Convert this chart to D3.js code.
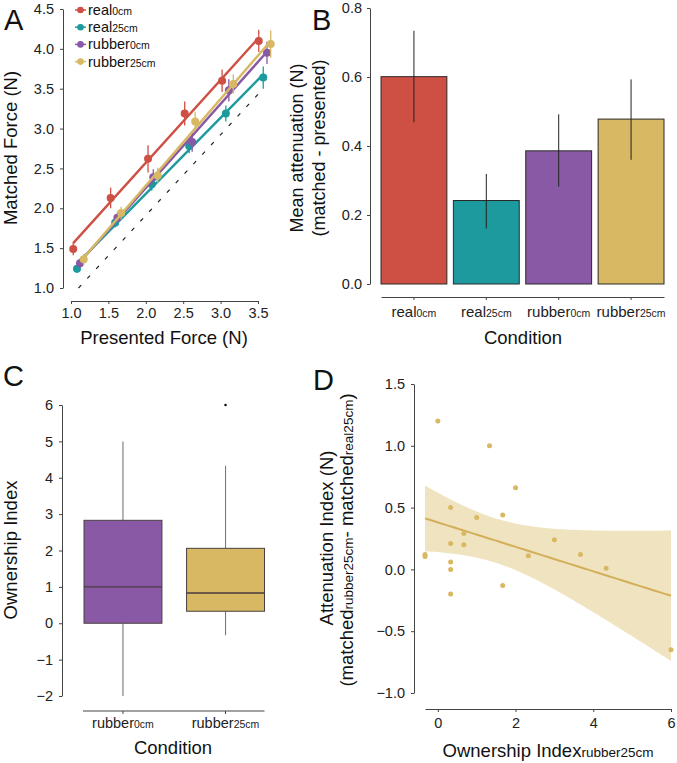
<!DOCTYPE html>
<html>
<head>
<meta charset="utf-8">
<script src="https://cdn.jsdelivr.net/npm/d3@7"></script>
<style>
  html, body { margin: 0; padding: 0; background: #fff; }
  svg { display: block; font-family: "Liberation Sans", Arial, Helvetica, sans-serif; }
  .tick text { fill: #222; }
</style>
</head>
<body>
<svg id="chart" width="677" height="763"></svg>
<script>
// ---------------- DATA ----------------
// Panel A: matched vs presented force (x dodged per series)
const seriesNames = ["real0cm", "real25cm", "rubber0cm", "rubber25cm"];
const seriesMain = ["real", "real", "rubber", "rubber"];
const seriesSub = ["0cm", "25cm", "0cm", "25cm"];
const seriesColors = ["#CE5044", "#1C9A9E", "#8A59A6", "#D8B862"];

const presentedReal0 = [1.03, 1.53, 2.03, 2.52, 3.02, 3.51];
const presentedReal25 = [1.08, 1.59, 2.08, 2.58, 3.07, 3.57];
const presentedRubber0 = [1.12, 1.62, 2.10, 2.62, 3.11, 3.62];
const presentedRubber25 = [1.17, 1.67, 2.16, 2.66, 3.17, 3.67];

const matchedReal0 = [1.49, 2.13, 2.62, 3.19, 3.60, 4.10];
const matchedReal25 = [1.24, 1.82, 2.30, 2.78, 3.19, 3.64];
const matchedRubber0 = [1.31, 1.88, 2.39, 2.83, 3.48, 3.95];
const matchedRubber25 = [1.36, 1.94, 2.41, 3.09, 3.56, 4.06];

const errReal0 = [0.08, 0.13, 0.17, 0.15, 0.14, 0.14];
const errReal25 = [0.05, 0.06, 0.08, 0.09, 0.10, 0.14];
const errRubber0 = [0.06, 0.07, 0.10, 0.12, 0.14, 0.14];
const errRubber25 = [0.07, 0.08, 0.10, 0.12, 0.12, 0.17];

const identityX = [1.10, 3.57];
const identityY = [1.00, 3.50];

const axisATicksX = [1.0, 1.5, 2.0, 2.5, 3.0, 3.5];
const axisATicksY = [1.0, 1.5, 2.0, 2.5, 3.0, 3.5, 4.0, 4.5];

// Panel B: mean attenuation
const attenMean = [0.601, 0.242, 0.386, 0.478];
const attenLow = [0.469, 0.161, 0.282, 0.360];
const attenHigh = [0.734, 0.319, 0.492, 0.593];
const axisBTicksY = [0.0, 0.2, 0.4, 0.6, 0.8];

// Panel C: ownership index boxplots
const boxNames = ["rubber0cm", "rubber25cm"];
const boxMain = ["rubber", "rubber"];
const boxSub = ["0cm", "25cm"];
const boxColors = ["#8A59A6", "#D8B862"];
const ownMin = [-2.0, -0.33];
const ownQ1 = [0.0, 0.33];
const ownMedian = [1.0, 0.83];
const ownQ3 = [2.83, 2.06];
const ownMax = [5.0, 4.33];
const ownOutlierCond = ["rubber25cm"];
const ownOutlierValue = [6.0];
const axisCTicksY = [-2, -1, 0, 1, 2, 3, 4, 5, 6];

// Panel D: attenuation index vs ownership index (rubber25cm)
const ownershipX = [0, 1.33, 2.0, 0.33, 1.0, 1.67, 0.67, 0.33, 0.67, 3.0, 3.67, 2.33, 4.33, -0.33, -0.33, 0.33, 0.33, 0.33, 1.67, 6.0];
const attenuationY = [1.20, 1.00, 0.66, 0.50, 0.42, 0.44, 0.29, 0.21, 0.20, 0.24, 0.12, 0.11, 0.01, 0.12, 0.105, 0.06, 0.00, -0.20, -0.13, -0.65];
const axisDTicksX = [0, 2, 4, 6];
const axisDTicksY = [-1.0, -0.5, 0.0, 0.5, 1.0, 1.5];
const tCrit = 2.101; // t(0.975, df = 18)

// ---------------- HELPERS ----------------
const svg = d3.select("#chart");
const FONT_TICK = 14.5;
const FONT_TITLE = 18.5;
const AXIS_COLOR = "#444";

function styleAxis(g) {
  g.select(".domain").attr("stroke", AXIS_COLOR).attr("stroke-width", 1);
  g.selectAll(".tick line").attr("stroke", AXIS_COLOR).attr("stroke-width", 1);
  g.selectAll(".tick text").attr("font-size", FONT_TICK).attr("fill", "#222")
    .attr("font-family", '"Liberation Sans", Arial, sans-serif');
}

function addSubText(textSel, parts) {
  parts.forEach(p => {
    textSel.append("tspan").attr("font-size", p[1]).text(p[0]);
  });
}

function panelLetter(txt, x, y) {
  svg.append("text").attr("x", x).attr("y", y).attr("font-size", 29).attr("fill", "#111").text(txt);
}

function linreg(xs, ys) {
  const n = xs.length;
  const mx = d3.mean(xs), my = d3.mean(ys);
  let sxx = 0, sxy = 0;
  for (let i = 0; i < n; i++) { sxx += (xs[i] - mx) ** 2; sxy += (xs[i] - mx) * (ys[i] - my); }
  const b = sxy / sxx, a = my - b * mx;
  let sse = 0;
  for (let i = 0; i < n; i++) sse += (ys[i] - a - b * xs[i]) ** 2;
  const s = Math.sqrt(sse / (n - 2));
  return { a, b, s, n, mx, sxx };
}

// ---------------- PANEL A ----------------
(function () {
  const x = d3.scaleLinear().domain([1.0, 3.5]).range([71, 258]);
  const y = d3.scaleLinear().domain([1.0, 4.5]).range([288, 9]);
  const g = svg.append("g");

  g.append("g").attr("transform", "translate(0,301)")
    .call(d3.axisBottom(x).tickValues(axisATicksX).tickFormat(d3.format(".1f")).tickSize(3).tickSizeOuter(0).tickPadding(4))
    .call(styleAxis);
  g.append("g").attr("transform", "translate(63,0)")
    .call(d3.axisLeft(y).tickValues(axisATicksY).tickFormat(d3.format(".1f")).tickSize(3).tickSizeOuter(0).tickPadding(6))
    .call(styleAxis);

  g.append("line")
    .attr("x1", x(identityX[0])).attr("y1", y(identityY[0]))
    .attr("x2", x(identityX[1])).attr("y2", y(identityY[1]))
    .attr("stroke", "#222").attr("stroke-width", 1.2).attr("stroke-dasharray", "4,9");

  const pres = [presentedReal0, presentedReal25, presentedRubber0, presentedRubber25];
  const matc = [matchedReal0, matchedReal25, matchedRubber0, matchedRubber25];
  const errs = [errReal0, errReal25, errRubber0, errRubber25];

  seriesNames.forEach((name, si) => {
    const col = seriesColors[si];
    const xs = pres[si], ys = matc[si];
    const fit = linreg(xs, ys);
    const x0 = d3.min(xs), x1 = d3.max(xs);
    g.append("line")
      .attr("x1", x(x0)).attr("y1", y(fit.a + fit.b * x0))
      .attr("x2", x(x1)).attr("y2", y(fit.a + fit.b * x1))
      .attr("stroke", col).attr("stroke-width", 2.4);
    xs.forEach((xv, i) => {
      g.append("line")
        .attr("x1", x(xv)).attr("x2", x(xv))
        .attr("y1", y(ys[i] - errs[si][i])).attr("y2", y(ys[i] + errs[si][i]))
        .attr("stroke", col).attr("stroke-width", 1.3);
      g.append("circle").attr("cx", x(xv)).attr("cy", y(ys[i])).attr("r", 4).attr("fill", col);
    });
  });

  const leg = g.append("g");
  seriesNames.forEach((name, i) => {
    const ly = 10 + i * 17.2;
    leg.append("line").attr("x1", 75).attr("x2", 86).attr("y1", ly).attr("y2", ly)
      .attr("stroke", seriesColors[i]).attr("stroke-width", 1.5);
    leg.append("circle").attr("cx", 80.5).attr("cy", ly).attr("r", 3.3).attr("fill", seriesColors[i]);
    const t = leg.append("text").attr("x", 88).attr("y", ly + 5).attr("fill", "#111");
    addSubText(t, [[seriesMain[i], 14.5], [seriesSub[i], 10.5]]);
  });

  svg.append("text").attr("x", 164).attr("y", 344).attr("text-anchor", "middle")
    .attr("font-size", FONT_TITLE).attr("fill", "#111").text("Presented Force (N)");
  svg.append("text").attr("transform", "translate(17,148) rotate(-90)").attr("text-anchor", "middle")
    .attr("font-size", FONT_TITLE).attr("fill", "#111").text("Matched Force (N)");
  panelLetter("A", 4, 30);
})();

// ---------------- PANEL B ----------------
(function () {
  const x = d3.scaleBand().domain(seriesNames).range([381, 664]).paddingInner(0.09).paddingOuter(0);
  const y = d3.scaleLinear().domain([0, 0.8]).range([284, 8]);
  const g = svg.append("g");

  const xAxis = g.append("g").attr("transform", "translate(0,297)")
    .call(d3.axisBottom(x).tickSize(3).tickSizeOuter(0).tickPadding(5).tickFormat(() => ""))
    .call(styleAxis);
  xAxis.selectAll(".tick").each(function (d, i) {
    const t = d3.select(this).select("text").attr("y", 20).attr("dy", null);
    addSubText(t, [[seriesMain[i], 15], [seriesSub[i], 10.5]]);
  });
  g.append("g").attr("transform", "translate(370,0)")
    .call(d3.axisLeft(y).tickValues(axisBTicksY).tickFormat(d3.format(".1f")).tickSize(3).tickSizeOuter(0).tickPadding(5))
    .call(styleAxis);

  seriesNames.forEach((name, i) => {
    g.append("rect").attr("x", x(name)).attr("width", x.bandwidth())
      .attr("y", y(attenMean[i])).attr("height", y(0) - y(attenMean[i]))
      .attr("fill", seriesColors[i]).attr("stroke", "#2a2a2a").attr("stroke-width", 1);
  });
  seriesNames.forEach((name, i) => {
    const cx = x(name) + x.bandwidth() / 2;
    g.append("line").attr("x1", cx).attr("x2", cx).attr("y1", y(attenLow[i])).attr("y2", y(attenHigh[i]))
      .attr("stroke", "#222").attr("stroke-width", 1);
  });

  svg.append("text").attr("x", 523).attr("y", 344).attr("text-anchor", "middle")
    .attr("font-size", FONT_TITLE).attr("fill", "#111").text("Condition");
  svg.append("text").attr("transform", "translate(303,148) rotate(-90)").attr("text-anchor", "middle")
    .attr("font-size", 18).attr("fill", "#111").text("Mean attenuation (N)");
  svg.append("text").attr("transform", "translate(325,148) rotate(-90)").attr("text-anchor", "middle")
    .attr("font-size", 18).attr("fill", "#111").text("(matched - presented)");
  panelLetter("B", 312, 30);
})();

// ---------------- PANEL C ----------------
(function () {
  const x = d3.scaleBand().domain(boxNames).range([84, 264.5]).paddingInner(0.24).paddingOuter(0);
  const y = d3.scaleLinear().domain([-2, 6]).range([696, 405]);
  const g = svg.append("g");

  const xAxis = g.append("g").attr("transform", "translate(0,711)")
    .call(d3.axisBottom(x).tickSize(3).tickSizeOuter(0).tickFormat(() => ""))
    .call(styleAxis);
  xAxis.select(".domain").attr("d", "M83,0H264.5");
  xAxis.selectAll(".tick").each(function (d, i) {
    const t = d3.select(this).select("text").attr("y", 17).attr("dy", null);
    addSubText(t, [[boxMain[i], 14.5], [boxSub[i], 10.5]]);
  });
  g.append("g").attr("transform", "translate(62,0)")
    .call(d3.axisLeft(y).tickValues(axisCTicksY).tickFormat(d => d < 0 ? "\u2212" + Math.abs(d) : d).tickSize(3).tickSizeOuter(0).tickPadding(6))
    .call(styleAxis);

  boxNames.forEach((name, i) => {
    const cx = x(name) + x.bandwidth() / 2;
    g.append("line").attr("x1", cx).attr("x2", cx).attr("y1", y(ownQ3[i])).attr("y2", y(ownMax[i]))
      .attr("stroke", "#777").attr("stroke-width", 1.1);
    g.append("line").attr("x1", cx).attr("x2", cx).attr("y1", y(ownQ1[i])).attr("y2", y(ownMin[i]))
      .attr("stroke", "#777").attr("stroke-width", 1.1);
    g.append("rect").attr("x", x(name)).attr("width", x.bandwidth())
      .attr("y", y(ownQ3[i])).attr("height", y(ownQ1[i]) - y(ownQ3[i]))
      .attr("fill", boxColors[i]).attr("stroke", "#4a4040").attr("stroke-width", 1);
    g.append("line").attr("x1", x(name)).attr("x2", x(name) + x.bandwidth())
      .attr("y1", y(ownMedian[i])).attr("y2", y(ownMedian[i]))
      .attr("stroke", "#4a3a40").attr("stroke-width", 1.4);
  });
  ownOutlierCond.forEach((c, i) => {
    g.append("circle").attr("cx", x(c) + x.bandwidth() / 2).attr("cy", y(ownOutlierValue[i])).attr("r", 1.3).attr("fill", "#111");
  });

  svg.append("text").attr("x", 173).attr("y", 754).attr("text-anchor", "middle")
    .attr("font-size", FONT_TITLE).attr("fill", "#111").text("Condition");
  svg.append("text").attr("transform", "translate(17,550) rotate(-90)").attr("text-anchor", "middle")
    .attr("font-size", FONT_TITLE).attr("fill", "#111").text("Ownership Index");
  panelLetter("C", 3, 386);
})();

// ---------------- PANEL D ----------------
(function () {
  const x = d3.scaleLinear().domain([-0.33, 6]).range([425, 671]);
  const y = d3.scaleLinear().domain([-1.0, 1.5]).range([693, 384]);
  const g = svg.append("g");

  g.append("g").attr("transform", "translate(0,709)")
    .call(d3.axisBottom(x).tickValues(axisDTicksX).tickFormat(d3.format("d")).tickSize(3).tickSizeOuter(0).tickPadding(6))
    .call(styleAxis);
  g.append("g").attr("transform", "translate(414,0)")
    .call(d3.axisLeft(y).tickValues(axisDTicksY).tickFormat(d => (d < 0 ? "\u2212" : "") + d3.format(".1f")(Math.abs(d))).tickSize(3).tickSizeOuter(0).tickPadding(6))
    .call(styleAxis);

  const fit = linreg(ownershipX, attenuationY);
  const xmin = d3.min(ownershipX), xmax = d3.max(ownershipX);
  const grid = d3.range(0, 81).map(k => xmin + (xmax - xmin) * k / 80);
  const band = grid.map(xv => {
    const yh = fit.a + fit.b * xv;
    const se = fit.s * Math.sqrt(1 / fit.n + (xv - fit.mx) ** 2 / fit.sxx);
    return { x: xv, y: yh, lo: yh - tCrit * se, hi: yh + tCrit * se };
  });
  g.append("path").datum(band)
    .attr("d", d3.area().x(d => x(d.x)).y0(d => y(d.lo)).y1(d => y(d.hi)))
    .attr("fill", "#D8B862").attr("fill-opacity", 0.4);
  g.append("path").datum(band)
    .attr("d", d3.line().x(d => x(d.x)).y(d => y(d.y)))
    .attr("fill", "none").attr("stroke", "#D4AF5A").attr("stroke-width", 2);
  ownershipX.forEach((xv, i) => {
    g.append("circle").attr("cx", x(xv)).attr("cy", y(attenuationY[i])).attr("r", 2.5).attr("fill", "#D8B862");
  });

  const xt = svg.append("text").attr("x", 548).attr("y", 757).attr("text-anchor", "middle").attr("fill", "#111");
  addSubText(xt, [["Ownership Index", FONT_TITLE], ["rubber25cm", 13.5]]);
  svg.append("text").attr("transform", "translate(333,538) rotate(-90)").attr("text-anchor", "middle")
    .attr("font-size", FONT_TITLE).attr("fill", "#111").text("Attenuation Index (N)");
  const yt = svg.append("text").attr("transform", "translate(353,540) rotate(-90)").attr("text-anchor", "middle").attr("fill", "#111");
  addSubText(yt, [["(matched", FONT_TITLE], ["rubber25cm", 13.5], ["- matched", FONT_TITLE], ["real25cm", 13.5], [")", FONT_TITLE]]);
  panelLetter("D", 313, 390);
})();
</script>
</body>
</html>
